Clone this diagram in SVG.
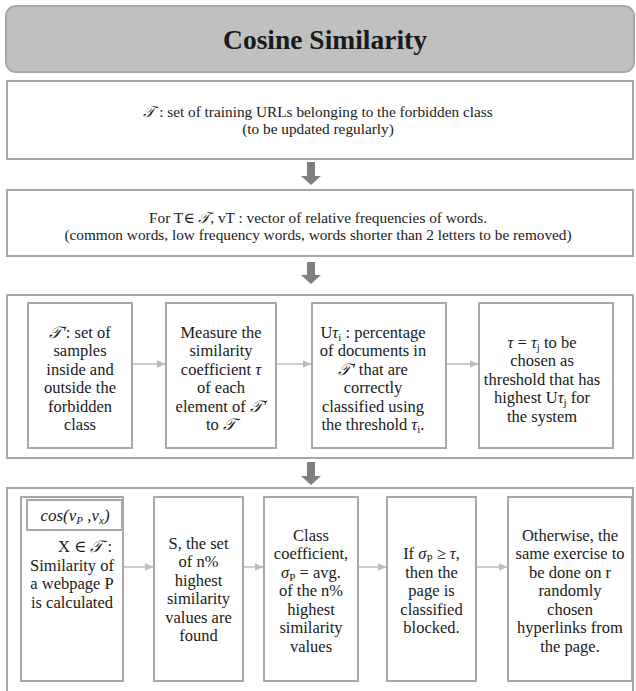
<svg xmlns="http://www.w3.org/2000/svg" width="636" height="691" viewBox="0 0 636 691">
<style>
.box{fill:#ffffff;stroke:#a8a8a8;stroke-width:2}
.t{fill:#1a1a1a;text-anchor:middle}
.s14{font-size:15.3px}
.s16{font-size:16.5px}
.i{font-style:italic}
.sub{font-size:11px}
.conn line{stroke:#c0c0c0;stroke-width:1.6}
.blk{fill:#7f7f7f}
</style>
<defs>
<marker id="arr" markerWidth="9" markerHeight="8" refX="8.5" refY="4" orient="auto" markerUnits="userSpaceOnUse">
<path d="M0,0 L9,4 L0,8 Z" fill="#bdbdbd"/>
</marker>
</defs>
<g font-family="'Liberation Serif', 'Times New Roman', 'DejaVu Serif', serif">

<g id="title">
<rect x="6" y="6" width="628" height="66" rx="10" fill="#c0c0c0" stroke="#a9a9a9" stroke-width="2"/>
<text class="t" x="325" y="48.5" font-size="27.5" font-weight="bold">Cosine Similarity</text>
</g>

<g id="training-set">
<rect class="box" x="7" y="81" width="626" height="78"/>
<text class="t s14" x="318" y="117"><tspan class="i">𝒯</tspan> : set of training URLs belonging to the forbidden class</text>
<text class="t s14" x="318" y="134">(to be updated regularly)</text>
</g>

<g id="vector">
<rect class="box" x="7" y="190" width="626" height="66"/>
<text class="t s14" x="318" y="223">For T∈ <tspan class="i">𝒯</tspan>, vT : vector of relative frequencies of words.</text>
<text class="t s14" x="318" y="240">(common words, low frequency words, words shorter than 2 letters to be removed)</text>
</g>

<g id="threshold-stage">
<rect class="box" x="7" y="295" width="626" height="163"/>
</g>

<g id="samples">
<rect class="box" x="28" y="303" width="104" height="145"/>
<text class="t s16" x="80" y="337.5"><tspan class="i">𝒯′</tspan>: set of</text>
<text class="t s16" x="80" y="356">samples</text>
<text class="t s16" x="80" y="374.5">inside and</text>
<text class="t s16" x="80" y="393">outside the</text>
<text class="t s16" x="80" y="411.5">forbidden</text>
<text class="t s16" x="80" y="430">class</text>
</g>

<g id="measure">
<rect class="box" x="166" y="303" width="110" height="145"/>
<text class="t s16" x="221" y="337.5">Measure the</text>
<text class="t s16" x="221" y="356">similarity</text>
<text class="t s16" x="221" y="374.5">coefficient <tspan class="i">τ</tspan></text>
<text class="t s16" x="221" y="393">of each</text>
<text class="t s16" x="221" y="411.5">element of <tspan class="i">𝒯′</tspan></text>
<text class="t s16" x="221" y="430">to <tspan class="i">𝒯</tspan></text>
</g>

<g id="percentage">
<rect class="box" x="312" y="303" width="134" height="145"/>
<text class="t s16" x="373" y="337.5">U<tspan class="i">τ</tspan><tspan class="sub" baseline-shift="-3">i</tspan> : percentage</text>
<text class="t s16" x="373" y="356">of documents in</text>
<text class="t s16" x="373" y="374.5"><tspan class="i">𝒯′</tspan> that are</text>
<text class="t s16" x="373" y="393">correctly</text>
<text class="t s16" x="373" y="411.5">classified using</text>
<text class="t s16" x="373" y="430">the threshold <tspan class="i">τ</tspan><tspan class="sub" baseline-shift="-3">i</tspan>.</text>
</g>

<g id="choose-threshold">
<rect class="box" x="479" y="303" width="134" height="145"/>
<text class="t s16" x="542" y="347.5"><tspan class="i">τ</tspan> = <tspan class="i">τ</tspan><tspan class="sub" baseline-shift="-3">j</tspan>  to be</text>
<text class="t s16" x="542" y="366">chosen as</text>
<text class="t s16" x="542" y="384.5">threshold that has</text>
<text class="t s16" x="542" y="403">highest U<tspan class="i">τ</tspan><tspan class="sub" baseline-shift="-3">j</tspan>  for</text>
<text class="t s16" x="542" y="421.5">the system</text>
</g>

<g id="classify-stage">
<rect class="box" x="7" y="488" width="626" height="215"/>
</g>

<g id="similarity">
<rect class="box" x="21" y="497" width="102" height="184"/>
<rect class="box" x="27" y="500" width="95" height="30"/>
<text class="t" x="75" y="521" font-size="17" font-style="italic">cos(v<tspan class="sub" baseline-shift="-3">P</tspan> ,v<tspan class="sub" baseline-shift="-3">x</tspan>)</text>
<text class="t s16" x="112" y="552" style="text-anchor:end">X ∈ <tspan class="i">𝒯</tspan> :</text>
<text class="t s16" x="72" y="570.5">Similarity of</text>
<text class="t s16" x="72" y="589">a webpage P</text>
<text class="t s16" x="72" y="607.5">is calculated</text>
</g>

<g id="highest-set">
<rect class="box" x="154" y="497" width="89" height="184"/>
<text class="t s16" x="198.5" y="548.5">S, the set</text>
<text class="t s16" x="198.5" y="567">of n%</text>
<text class="t s16" x="198.5" y="585.5">highest</text>
<text class="t s16" x="198.5" y="604">similarity</text>
<text class="t s16" x="198.5" y="622.5">values are</text>
<text class="t s16" x="198.5" y="641">found</text>
</g>

<g id="class-coefficient">
<rect class="box" x="264" y="497" width="94" height="184"/>
<text class="t s16" x="311" y="540.5">Class</text>
<text class="t s16" x="311" y="559">coefficient,</text>
<text class="t s16" x="311" y="577.5"><tspan class="i">σ</tspan><tspan class="sub" baseline-shift="-3">P</tspan> = avg.</text>
<text class="t s16" x="311" y="596">of the n%</text>
<text class="t s16" x="311" y="614.5">highest</text>
<text class="t s16" x="311" y="633">similarity</text>
<text class="t s16" x="311" y="651.5">values</text>
</g>

<g id="blocked">
<rect class="box" x="387" y="497" width="89" height="184"/>
<text class="t s16" x="431.5" y="559">If <tspan class="i">σ</tspan><tspan class="sub" baseline-shift="-3">P</tspan> ≥ <tspan class="i">τ</tspan>,</text>
<text class="t s16" x="431.5" y="577.5">then the</text>
<text class="t s16" x="431.5" y="596">page is</text>
<text class="t s16" x="431.5" y="614.5">classified</text>
<text class="t s16" x="431.5" y="633">blocked.</text>
</g>

<g id="otherwise">
<rect class="box" x="508" y="497" width="124" height="184"/>
<text class="t s16" x="570" y="540.5">Otherwise, the</text>
<text class="t s16" x="570" y="559">same exercise to</text>
<text class="t s16" x="570" y="577.5">be done on r</text>
<text class="t s16" x="570" y="596">randomly</text>
<text class="t s16" x="570" y="614.5">chosen</text>
<text class="t s16" x="570" y="633">hyperlinks from</text>
<text class="t s16" x="570" y="651.5">the page.</text>
</g>

</g>
<g id="connectors" class="conn">
<polygon class="blk" points="307,162 315,162 315,176 321,176 311,185 301,176 307,176"/>
<polygon class="blk" points="307,262 315,262 315,275 321,275 311,284 301,275 307,275"/>
<polygon class="blk" points="307,462 315,462 315,476 321,476 311,485 301,476 307,476"/>
<line x1="133" y1="364" x2="165" y2="364" marker-end="url(#arr)"/>
<line x1="277" y1="364" x2="311" y2="364" marker-end="url(#arr)"/>
<line x1="447" y1="364" x2="478" y2="364" marker-end="url(#arr)"/>
<line x1="124" y1="567" x2="153" y2="567" marker-end="url(#arr)"/>
<line x1="244" y1="567" x2="263" y2="567" marker-end="url(#arr)"/>
<line x1="359" y1="567" x2="386" y2="567" marker-end="url(#arr)"/>
<line x1="477" y1="567" x2="507" y2="567" marker-end="url(#arr)"/>
</g>
</svg>
